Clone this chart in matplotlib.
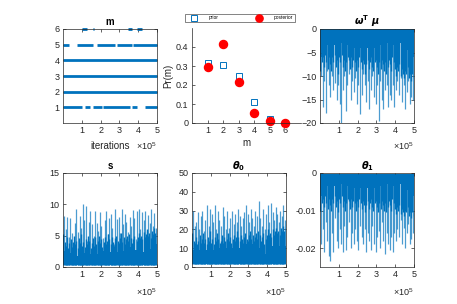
import numpy as np
import matplotlib
matplotlib.use("Agg")
import matplotlib.pyplot as plt

plt.rcParams['font.family'] = ['Liberation Sans', 'DejaVu Sans']
plt.rcParams['mathtext.fontset'] = 'custom'
plt.rcParams['mathtext.rm'] = 'Liberation Sans'
plt.rcParams['mathtext.it'] = 'DejaVu Sans:bold:italic'
plt.rcParams['mathtext.bf'] = 'DejaVu Sans:bold'

BLUE = '#0072BD'
AX = '#262626'

# ---------------- data ----------------
m_levels = [1, 2, 3, 4, 5, 6]
# intervals (in units of 1e5 iterations) where the chain visited each m
m_intervals = {
    1: [(0.0, 1.0), (1.17, 1.44), (1.6, 2.07), (2.13, 3.56), (3.67, 3.94), (4.36, 5.0)],
    2: [(0.0, 5.0)],
    3: [(0.0, 5.0)],
    4: [(0.0, 5.0)],
    5: [(0.0, 0.3), (0.74, 1.6), (1.8, 2.77), (2.87, 3.67), (3.72, 5.0)],
    6: [(1.0, 1.3), (1.58, 1.64), (3.45, 3.67), (3.95, 4.2)],
}

pm_m = [1, 2, 3, 4, 5, 6]
prior = [0.315, 0.305, 0.245, 0.11, 0.02, 0.002]
posterior = [0.295, 0.415, 0.215, 0.055, 0.01, 0.0]

# s trace: dense body, medium excursions, tall spikes
s_body = [3, 2.5, 2, 2.2, 2, 2.4, 1.8, 2.2, 2.6, 2.2, 1.8, 2, 2.6, 2.2, 2, 2.4, 2.8, 2.6, 2.2, 2,
          2.4, 2.7, 2.8, 2.4, 2.2, 2.6, 3, 2.8, 3.2, 2.8, 2.7, 2.2, 1.2, 2.4, 3.2, 3.4, 2.8, 3.5, 3.2, 3.6]
s_mid = [5.2, 4.0, 3.4, 4.8, 3.0, 3.8, 4.5, 3.2, 4.0, 5.0, 3.6, 4.2, 3.0, 4.6, 3.8, 5.2, 3.4, 4.0, 3.2, 4.4,
         3.6, 5.0, 4.2, 3.0, 3.8, 4.6, 3.4, 4.8, 3.6, 4.2, 5.0, 3.8, 4.4, 3.2, 4.0, 4.8, 3.6, 4.2, 5.2, 4.4,
         3.6, 4.8, 4.0, 3.4, 4.6, 5.0, 4.2, 3.8, 4.6, 5.4, 4.0, 4.8, 3.6, 4.4, 5.0, 4.2, 5.2, 4.6, 3.8, 4.4,
         5.0, 2.0, 4.2, 4.8, 5.4, 4.6, 5.0, 4.4, 5.6, 4.8, 5.2, 6.0, 5.0, 5.4, 4.6, 5.8, 5.2, 6.2, 5.4, 6.0]
s_tall = [8.2, 6.0, 7.9, 4.8, 7.8, 5.5, 3.8, 7.0, 9.2, 5.6, 8.1, 6.2, 10.1, 7.5, 9.8, 4.2, 7.2, 9.0, 6.8, 5.0,
          8.9, 7.1, 5.8, 8.8, 6.5, 4.6, 7.5, 9.0, 5.2, 7.8, 8.5, 6.2, 3.6, 9.2, 7.6, 8.0, 5.4, 9.3, 6.8, 8.5,
          7.2, 5.6, 8.0, 6.6, 9.1, 7.8, 4.4, 8.9, 9.3, 6.0, 8.8, 7.5, 9.0, 5.8, 8.3, 7.0, 9.3, 6.5, 8.6, 6.2]

# theta_0 trace
t0_body = [10, 9, 8, 9, 10, 8, 9, 10, 9, 9, 8, 10, 11, 9, 10, 10, 9, 10, 11, 10,
           10, 11, 10, 12, 11, 12, 12, 11, 10, 9, 7, 10, 10, 11, 10, 12, 11, 10, 10, 11]
t0_mid = [18, 14, 13, 16, 12, 14, 17, 13, 15, 18, 13, 15, 12, 16, 14, 19, 13, 15, 12, 16,
          14, 18, 15, 13, 14, 17, 13, 16, 14, 15, 18, 14, 16, 13, 15, 17, 14, 16, 19, 16,
          14, 17, 15, 13, 16, 18, 15, 14, 17, 19, 15, 17, 14, 16, 18, 15, 19, 17, 14, 16,
          18, 12, 15, 17, 20, 17, 18, 16, 20, 17, 19, 21, 18, 19, 17, 21, 19, 22, 19, 21]
t0_tall = [30, 22, 24, 29, 20, 27, 30, 19, 25, 33, 22, 31, 28, 24, 33, 20, 30, 25, 22, 32,
           27, 20, 30, 21, 26, 30, 23, 28, 24, 31, 27, 22, 26, 29, 33, 28, 24, 31, 26, 22,
           30, 27, 35, 26, 22, 31, 20, 28, 33, 24, 34, 29, 25, 32, 28, 24, 30, 27, 33, 25]

# omega^T mu trace
wm_body = [-5, -6, -4, -3.5, -4, -3, -3.5, -4, -3.5, -3, -4, -3.5, -3, -4.5, -4, -3.5, -3, -4, -3.5, -4.5,
           -4, -3.5, -3, -4, -4.5, -3.5, -4, -3.5, -3, -4, -3.5, -4.5, -4, -3, -3.5, -4, -4.5, -3.5, -5, -6]
wm_mid = [-9, -7, -6, -8, -5.5, -7, -8.5, -6, -7.5, -9, -6, -7, -5.5, -8, -6.5, -9.5, -6, -7, -5.5, -8,
          -6.5, -9, -7, -6, -6.5, -8.5, -6, -8, -6.5, -7, -9, -6.5, -8, -6, -7, -8.5, -6.5, -7.5, -9.5, -7.5,
          -6.5, -8.5, -7, -6, -8, -9, -7, -6.5, -8, -9.5, -7, -8.5, -6.5, -7.5, -9, -7, -9.5, -8, -6.5, -7.5,
          -9, -6, -7, -8.5, -10, -8, -9, -7.5, -10, -8.5, -9.5, -10.5, -9, -9.5, -8, -10.5, -9.5, -11, -9.5, -10.5]
wm_tall = [-10, -16.5, -11, -17.8, -9, -12, -14.5, -10, -13, -11.5, -15, -12, -16, -20, -13, -10, -17.5, -12,
           -9.5, -15, -11, -13.5, -10.5, -16, -12, -18, -14, -9.5, -12, -15.5, -11, -17, -13, -10, -14.5,
           -16, -12, -19.5, -11, -15, -17, -13, -12, -16.5, -14, -15, -12, -16.5, -13, -11,
           -14, -10.5, -15.5, -12, -17, -13.5, -11, -16, -14.5, -15]

# theta_1 trace
t1_body = [-0.005, -0.006, -0.004, -0.0035, -0.004, -0.003, -0.0035, -0.004, -0.0035, -0.003,
           -0.004, -0.0035, -0.003, -0.0045, -0.004, -0.0035, -0.003, -0.004, -0.0035, -0.0045,
           -0.004, -0.0035, -0.003, -0.004, -0.0045, -0.0035, -0.004, -0.0035, -0.003, -0.004,
           -0.0035, -0.0045, -0.004, -0.003, -0.0035, -0.004, -0.0045, -0.0035, -0.005, -0.006]
t1_mid = [-0.010, -0.008, -0.007, -0.009, -0.006, -0.008, -0.0095, -0.007, -0.0085, -0.010,
          -0.007, -0.008, -0.006, -0.009, -0.0075, -0.0105, -0.007, -0.008, -0.006, -0.009,
          -0.0075, -0.010, -0.008, -0.007, -0.0075, -0.0095, -0.007, -0.009, -0.0075, -0.008,
          -0.010, -0.0075, -0.009, -0.007, -0.008, -0.0095, -0.0075, -0.0085, -0.0105, -0.0085,
          -0.0075, -0.0095, -0.008, -0.007, -0.009, -0.010, -0.008, -0.0075, -0.009, -0.0105,
          -0.008, -0.0095, -0.0075, -0.0085, -0.010, -0.008, -0.0105, -0.009, -0.0075, -0.0085,
          -0.010, -0.007, -0.008, -0.0095, -0.011, -0.009, -0.010, -0.0085, -0.011, -0.0095,
          -0.0105, -0.0115, -0.010, -0.0105, -0.009, -0.0115, -0.0105, -0.012, -0.0105, -0.0115]
t1_tall = [-0.019, -0.015, -0.021, -0.013, -0.018, -0.022, -0.0235, -0.016, -0.021, -0.012,
           -0.018, -0.02, -0.015, -0.019, -0.021, -0.014, -0.0205, -0.017, -0.013, -0.02,
           -0.016, -0.019, -0.015, -0.018, -0.0205, -0.014, -0.017, -0.019, -0.015, -0.021,
           -0.016, -0.018, -0.0205, -0.014, -0.019, -0.021, -0.017, -0.0155, -0.02, -0.013,
           -0.018, -0.0215, -0.016, -0.019, -0.0205, -0.017, -0.021, -0.016, -0.018, -0.015,
           -0.017, -0.0125, -0.019, -0.0145, -0.02, -0.016, -0.0135, -0.019, -0.0175, -0.016]

N_ITER = 5e5

# ---------------- figure ----------------
W, H = 457, 304
fig = plt.figure(figsize=(W / 100, H / 100), dpi=100)


def rect(l, t, w, h):
    return [l / W, (H - t - h) / H, w / W, h / H]


def style(ax, box=True):
    for sp in ax.spines.values():
        sp.set_color(AX)
        sp.set_linewidth(0.5)
    ax.tick_params(direction='in', length=2.5, width=0.5, colors=AX, labelsize=6.5,
                   top=box, right=box, pad=2.5)
    if not box:
        ax.spines['top'].set_visible(False)
        ax.spines['right'].set_visible(False)


def iter_axis(ax):
    ax.set_xlim(0, N_ITER)
    ax.set_xticks([1e5, 2e5, 3e5, 4e5, 5e5])
    ax.set_xticklabels(['1', '2', '3', '4', '5'])


def exp_label(ax, ypix):
    bb = ax.get_position()
    fig.text(bb.x1, 1 - ypix / H, r'$\times10^{5}$', ha='right', va='center', fontsize=6.5, color=AX)


def trace(ax, body, mid, tall, base, ylim):
    xb = np.linspace(0, N_ITER, len(body))
    ax.fill_between(xb, base, body, step='mid', color=BLUE, lw=0)
    xt = np.linspace(0.01 * N_ITER, 0.99 * N_ITER, len(tall))
    ax.vlines(xt, base, tall, color=BLUE, lw=0.9, alpha=0.7)
    xm = np.linspace(0.005 * N_ITER, 0.995 * N_ITER, len(mid))
    ax.vlines(xm, base, mid, color=BLUE, lw=1.0)
    ax.set_ylim(*ylim)
    iter_axis(ax)


# m trace
ax1 = fig.add_axes(rect(63, 29, 94, 94))
for lv in m_levels:
    for a, b in m_intervals[lv]:
        ax1.hlines(lv, a * 1e5, b * 1e5, color=BLUE, lw=2.0, clip_on=False)
ax1.set_ylim(0, 6)
ax1.set_yticks([1, 2, 3, 4, 5, 6])
iter_axis(ax1)
style(ax1)
ax1.set_title('m', fontsize=7, fontweight='bold', pad=3, color='black')
fig.text(110 / W, 1 - 146 / H, 'iterations', ha='center', va='center', fontsize=7, color=AX)
exp_label(ax1, 146)

# Pr(m)
ax2 = fig.add_axes(rect(192, 28, 109, 95))
ax2.plot(pm_m, prior, 's', mfc='none', mec=BLUE, ms=4.5, mew=0.7, label='prior', clip_on=False)
ax2.plot(pm_m, posterior, 'o', mfc='red', mec='red', ms=5.8, label='posterior', clip_on=False)
ax2.set_xlim(0, 7)
ax2.set_ylim(0, 0.5)
ax2.set_xticks([1, 2, 3, 4, 5, 6])
ax2.set_yticks([0, 0.1, 0.2, 0.3, 0.4])
ax2.set_yticklabels(['0', '0.1', '0.2', '0.3', '0.4'])
style(ax2, box=False)
ax2.set_xlabel('m', fontsize=7, color=AX, labelpad=2)
ax2.set_ylabel('Pr(m)', fontsize=7, color=AX, labelpad=2)
leg = ax2.legend(ncol=2, loc='center', bbox_to_anchor=(183 / W, 1 - 24 / H, 114 / W, 12 / H),
                 bbox_transform=fig.transFigure, mode='expand', fontsize=3.5, frameon=True,
                 fancybox=False, borderpad=0.3, handletextpad=1.5, markerscale=0.9,
                 handlelength=3)
leg.get_frame().set_edgecolor(AX)
leg.get_frame().set_linewidth(0.5)

# omega^T mu
ax3 = fig.add_axes(rect(320, 29, 94, 94))
trace(ax3, wm_body, wm_mid, wm_tall, 0, (-20, 0))
ax3.set_yticks([-20, -15, -10, -5, 0])
style(ax3)
ax3.set_title(r'$\omega^{\mathbf{T}}\ \mu$', fontsize=7, pad=3, color='black')
exp_label(ax3, 146)

# s
ax4 = fig.add_axes(rect(63, 173, 94, 94))
trace(ax4, s_body, s_mid, s_tall, 0.25, (0, 15))
ax4.set_yticks([0, 5, 10, 15])
style(ax4)
ax4.set_title('s', fontsize=7, fontweight='bold', pad=3, color='black')
exp_label(ax4, 292)

# theta0
ax5 = fig.add_axes(rect(192, 173, 94, 94))
trace(ax5, t0_body, t0_mid, t0_tall, 1.8, (0, 50))
ax5.set_yticks([0, 10, 20, 30, 40, 50])
style(ax5)
ax5.set_title(r'$\theta_{\mathbf{0}}$', fontsize=7, pad=3, color='black')
exp_label(ax5, 292)

# theta1
ax6 = fig.add_axes(rect(320, 173, 94, 94))
trace(ax6, t1_body, t1_mid, t1_tall, -0.0003, (-0.025, 0))
ax6.set_yticks([-0.02, -0.01, 0])
ax6.set_yticklabels(['-0.02', '-0.01', '0'])
style(ax6)
ax6.set_title(r'$\theta_{\mathbf{1}}$', fontsize=7, pad=3, color='black')
exp_label(ax6, 292)

fig.savefig('out.png', dpi=100)
